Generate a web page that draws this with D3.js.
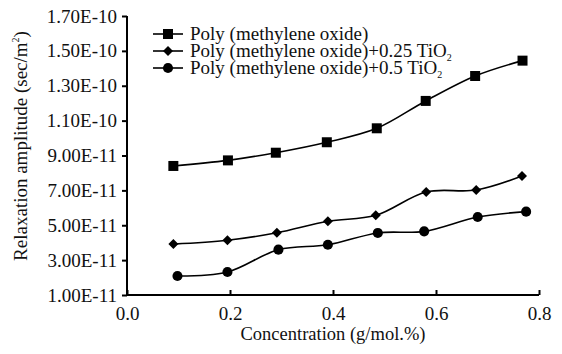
<!DOCTYPE html>
<html><head><meta charset="utf-8">
<script src="https://cdn.jsdelivr.net/npm/d3@7"></script>
<style>body{margin:0;background:#fff;} svg{display:block;font-family:"Liberation Serif","Times New Roman",serif;}</style>
</head><body>
<svg id="c" width="562" height="354"></svg>
<script>
const seriesNames = ["Poly (methylene oxide)", "Poly (methylene oxide)+0.25 TiO", "Poly (methylene oxide)+0.5 TiO"];
const xPOM = [0.090, 0.196, 0.289, 0.388, 0.485, 0.580, 0.676, 0.768];
const yPOM = [8.40e-11, 8.72e-11, 9.16e-11, 9.76e-11, 1.056e-10, 1.213e-10, 1.356e-10, 1.444e-10];
const xT25 = [0.090, 0.195, 0.291, 0.390, 0.483, 0.581, 0.678, 0.767];
const yT25 = [3.92e-11, 4.14e-11, 4.57e-11, 5.23e-11, 5.57e-11, 6.91e-11, 7.02e-11, 7.82e-11];
const xT50 = [0.098, 0.195, 0.294, 0.390, 0.487, 0.577, 0.681, 0.775];
const yT50 = [2.09e-11, 2.32e-11, 3.60e-11, 3.88e-11, 4.56e-11, 4.65e-11, 5.47e-11, 5.78e-11];
const yTicks = [1e-11, 3e-11, 5e-11, 7e-11, 9e-11, 1.1e-10, 1.3e-10, 1.5e-10, 1.7e-10];
const yTickLabels = ["1.00E-11","3.00E-11","5.00E-11","7.00E-11","9.00E-11","1.10E-10","1.30E-10","1.50E-10","1.70E-10"];
const xTicks = [0, 0.2, 0.4, 0.6, 0.8];
const xTickLabels = ["0.0","0.2","0.4","0.6","0.8"];

const svg = d3.select("#c");
const x = d3.scaleLinear().domain([0, 0.8]).range([127, 539]);
const y = d3.scaleLinear().domain([1e-11, 1.7e-10]).range([295, 16]);

// axes
const yAxis = d3.axisLeft(y).tickValues(yTicks).tickFormat((d,i)=>yTickLabels[i]).tickSize(5).tickPadding(5);
const gy = svg.append("g").attr("transform","translate(127,0)").call(yAxis);
const xAxis = d3.axisBottom(x).tickValues(xTicks).tickFormat((d,i)=>xTickLabels[i]).tickSize(-5).tickPadding(12);
const gx = svg.append("g").attr("transform","translate(0,295)").call(xAxis);
[gx, gy].forEach(g=>{
  g.select(".domain").attr("stroke","#000").attr("stroke-width",2);
  g.selectAll(".tick line").attr("stroke","#000").attr("stroke-width",2);
  g.selectAll(".tick text").attr("fill","#111").style("font-size","19px").style("font-family",'"Liberation Serif",serif');
});
gy.select(".domain").attr("d","M0,16V295");
gx.select(".domain").attr("d","M127,0H539");

svg.append("text").attr("x",333).attr("y",340).attr("text-anchor","middle")
  .style("font-size","18.5px").attr("fill","#111").text("Concentration (g/mol.%)");
const yt = svg.append("text").attr("transform","translate(27,146) rotate(-90)").attr("text-anchor","middle")
  .style("font-size","19px").attr("fill","#111");
yt.append("tspan").text("Relaxation amplitude (sec/m");
yt.append("tspan").attr("dy",-8).style("font-size","10px").text("2");
yt.append("tspan").attr("dy",8).text(")");

const line = d3.line().x(d=>x(d[0])).y(d=>y(d[1])).curve(d3.curveCatmullRom.alpha(0.5));
const diamond = {draw(ctx, size){ const r = Math.sqrt(size/2); ctx.moveTo(0,-r); ctx.lineTo(r,0); ctx.lineTo(0,r); ctx.lineTo(-r,0); ctx.closePath(); }};
const series = [
  {xs:xPOM, ys:yPOM, sym:d3.symbolSquare, size:100},
  {xs:xT25, ys:yT25, sym:diamond, size:50},
  {xs:xT50, ys:yT50, sym:d3.symbolCircle, size:80}
];
series.forEach(s=>{
  const pts = s.xs.map((v,i)=>[v, s.ys[i]]);
  svg.append("path").datum(pts).attr("d",line).attr("fill","none").attr("stroke","#000").attr("stroke-width",1.6);
  svg.selectAll(null).data(pts).enter().append("path")
    .attr("d", d3.symbol().type(s.sym).size(s.size))
    .attr("transform", d=>`translate(${x(d[0])},${y(d[1])})`).attr("fill","#000");
});

// legend
const legY = [34, 51, 68];
series.forEach((s,i)=>{
  const g = svg.append("g").attr("transform",`translate(0,${legY[i]})`);
  g.append("line").attr("x1",153).attr("x2",183).attr("stroke","#000").attr("stroke-width",1.6);
  g.append("path").attr("d", d3.symbol().type(s.sym).size(s.size)).attr("transform","translate(168,0)").attr("fill","#000");
  const t = g.append("text").attr("x",190).attr("y",6).style("font-size","19px").attr("fill","#111");
  t.append("tspan").text(seriesNames[i]);
  if (i>0) t.append("tspan").attr("dy",4).style("font-size","10px").text("2");
});
</script>
</body></html>
